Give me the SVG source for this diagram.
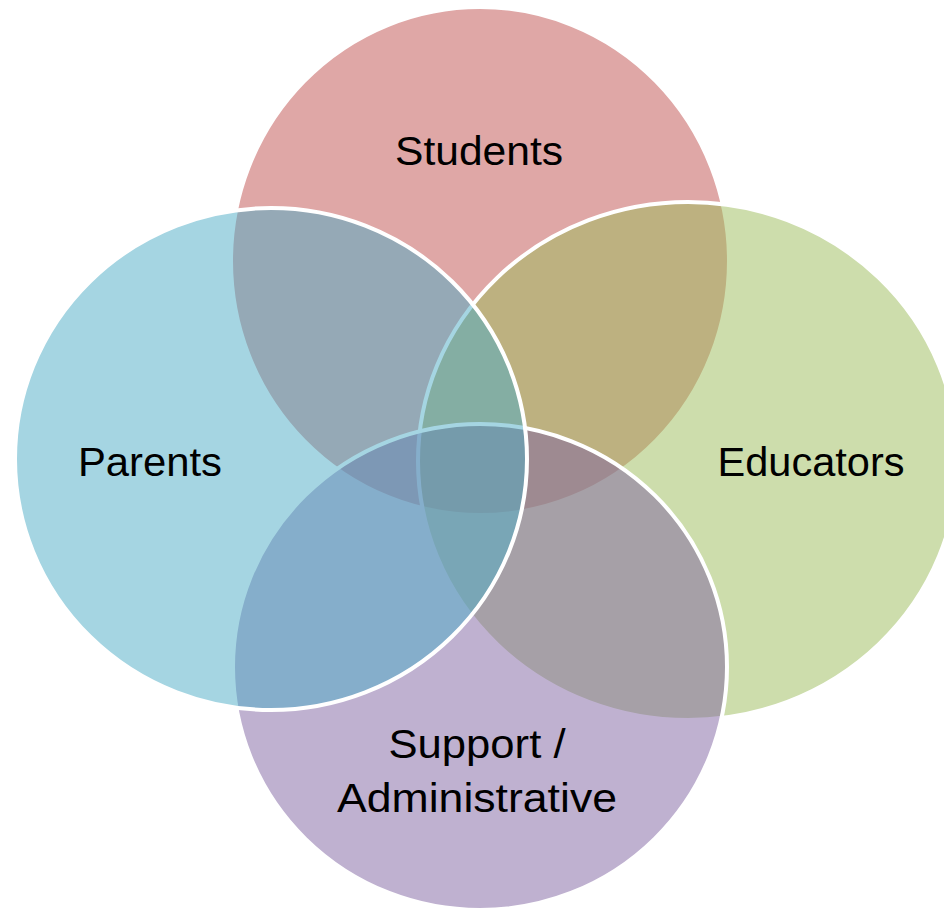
<svg xmlns="http://www.w3.org/2000/svg" width="944" height="913" viewBox="0 0 944 913">
<style>
.c{stroke:#fff;stroke-width:4;fill-opacity:0.5}
.t{font-family:"Liberation Sans",Arial,sans-serif;font-size:40px;fill:#000;text-anchor:middle}
</style>
<rect width="944" height="913" fill="#fff"/>
<g id="students">
<ellipse class="c" cx="480" cy="261" rx="249" ry="254" fill="#C0504D"/>
<text class="t" x="479" y="165" textLength="168" lengthAdjust="spacingAndGlyphs">Students</text>
</g>
<g id="educators">
<ellipse class="c" cx="688" cy="461" rx="270" ry="259" fill="#9BBB59"/>
<text class="t" x="811" y="476" textLength="187" lengthAdjust="spacingAndGlyphs">Educators</text>
</g>
<g id="support">
<ellipse class="c" cx="480" cy="667" rx="247" ry="243" fill="#8064A2"/>
<text class="t" x="477" y="758" textLength="177" lengthAdjust="spacingAndGlyphs">Support /</text>
<text class="t" x="477" y="812" textLength="280" lengthAdjust="spacingAndGlyphs">Administrative</text>
</g>
<g id="parents">
<ellipse class="c" cx="271" cy="459" rx="256" ry="251" fill="#4BACC6"/>
<text class="t" x="150" y="476" textLength="144" lengthAdjust="spacingAndGlyphs">Parents</text>
</g>
<g id="connectors"></g>
</svg>
